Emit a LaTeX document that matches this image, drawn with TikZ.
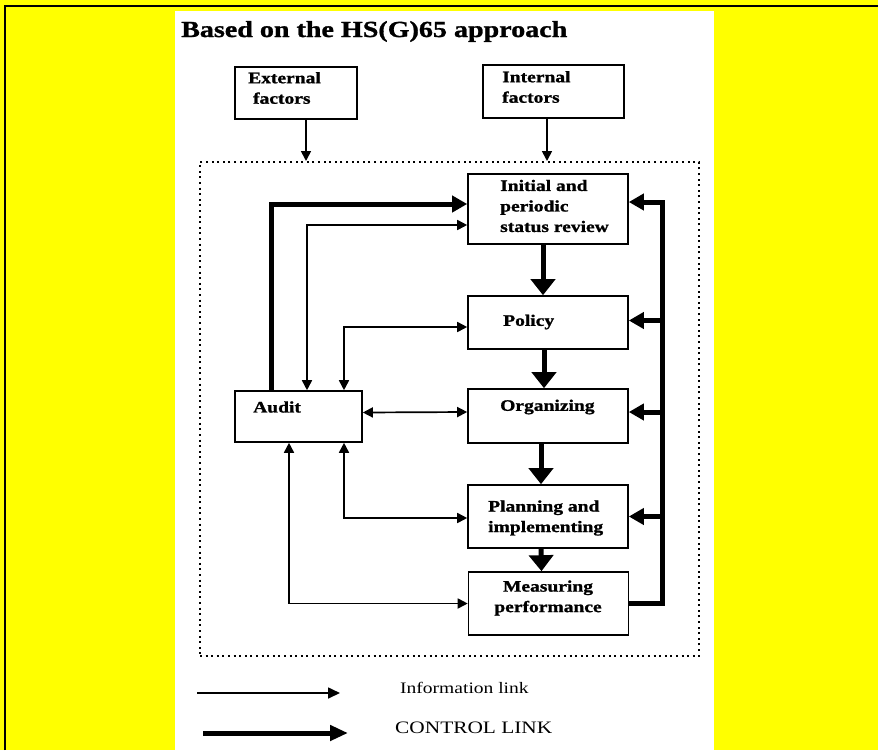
\documentclass[tikz,border=0pt]{standalone}
\usepackage{fontspec}
\setmainfont{Liberation Serif}[FakeStretch=1.22, BoldFeatures={FakeBold=1.2}]
\usetikzlibrary{arrows.meta}
\definecolor{bgyellow}{RGB}{255,255,0}

\begin{document}
\begin{tikzpicture}[x=1pt, y=-1pt]

        \tikzset{box/.style={draw=black, line width=1.6pt, inner sep=0pt},
                 lbl/.style={inner sep=0pt, align=left, font=\fontsize{16}{20.5}\selectfont\bfseries},
                 info/.style={line width=1.7pt, {Triangle[length=10pt,width=10pt]}-{Triangle[length=10pt,width=10pt]}},
                 infoone/.style={line width=1.7pt, -{Triangle[length=10pt,width=10pt]}},
                 ctrl/.style={line width=5pt, -{Triangle[length=15pt,width=16pt]}},
                 ctrldown/.style={line width=5pt, -{Triangle[length=16pt,width=24pt]}}}

        % background and page frame
        \useasboundingbox (0,0) rectangle (878,750);
        \fill[bgyellow] (0,0) rectangle (878,750);
        \fill[white] (175,11) rectangle (714,750);
        \draw[line width=2.5pt] (5,750) -- (5,6) -- (878,6);

        % title
        \node[inner sep=0pt, anchor=base west, font=\fontsize{23}{27}\selectfont\bfseries] (title) at (181,37) {Based on the HS(G)65 approach};

        % factors above the system
        \node[box, minimum width=122, minimum height=52] at (296,93) (ext) {};
        \node[lbl, anchor=west] at (248,88) (ext txt) {External\\\ factors};
        \node[box, minimum width=141, minimum height=53] at (553.5,91.5) (int) {};
        \node[lbl, anchor=west] at (502,87) (int txt) {Internal\\factors};

        % dotted system boundary
        \node[draw=black, line width=2pt, dash pattern=on 2pt off 3.6pt, minimum width=499, minimum height=494, inner sep=0pt] at (449.5,409) (frame) {};

        % main column of the cycle
        \node[box, minimum width=160, minimum height=70] at (548,209) (init) {};
        \node[lbl, anchor=west] at (500,206) (init txt) {Initial and\\periodic\\status review};
        \node[box, minimum width=160, minimum height=53] at (548,322.5) (policy) {};
        \node[lbl, anchor=west] at (503,322) (policy txt) {Policy};
        \node[box, minimum width=160, minimum height=54] at (548,416) (org) {};
        \node[lbl, anchor=west] at (500,407) (org txt) {Organizing};
        \node[box, minimum width=160, minimum height=63] at (548,516.5) (plan) {};
        \node[lbl, anchor=west] at (488,518) (plan txt) {Planning and\\implementing};
        \node[box, minimum width=160, minimum height=63] at (548.5,603.5) (meas) {};
        \node[lbl, align=center] at (548,598) (meas txt) {Measuring\\performance};

        % audit on the left
        \node[box, minimum width=127, minimum height=51] at (298.5,416.5) (audit) {};
        \node[lbl, anchor=west] at (253,407) (audit txt) {Audit};

        % inputs into the system
        \coordinate (extout) at (306,119);
        \coordinate (intout) at (547,118);
        \draw[infoone] (extout) -- (extout |- frame.north);
        \draw[infoone] (intout) -- (intout |- frame.north);

        % control links down the column
        \draw[ctrldown] ([xshift=-5pt]init.south) -- ([xshift=-5pt]policy.north);
        \draw[ctrldown] ([xshift=-4pt]policy.south) -- ([xshift=-4pt]org.north);
        \draw[ctrldown] ([xshift=-7pt]org.south) -- ([xshift=-7pt]plan.north);
        \draw[ctrldown] ([xshift=-7pt]plan.south) -- ([xshift=-7pt]meas.north);

        % feedback bus on the right
        \coordinate (bus) at (662,202);
        \draw[ctrl] (meas.east) -| (bus) -- ([yshift=7pt]init.east);
        \draw[ctrl] ([yshift=2pt]bus |- policy.east) -- ([yshift=2pt]policy.east);
        \draw[ctrl] ([yshift=4pt]bus |- org.east) -- ([yshift=4pt]org.east);
        \draw[ctrl] (bus |- plan.east) -- (plan.east);

        % audit back to the review
        \draw[ctrl] ([xshift=-27.5pt]audit.north) |- ([yshift=5pt]init.west);

        % information links
        \draw[info] ([xshift=8.5pt]audit.north) |- ([yshift=-16pt]init.west);
        \draw[info] ([xshift=45.5pt]audit.north) |- ([yshift=-4.5pt]policy.west);
        \draw[info] ([yshift=4pt]audit.east) -- ([yshift=4pt]org.west);
        \draw[info] ([xshift=45.5pt]audit.south) |- ([yshift=-1.5pt]plan.west);
        \draw[info] ([xshift=-9.5pt]audit.south) |- (meas.west);

        % legend
        \coordinate (li1) at (197,693);
        \coordinate (li2) at (340,693);
        \coordinate (lc1) at (203,733);
        \coordinate (lc2) at (348,733);
        \draw[line width=1.7pt, -{Triangle[length=12pt,width=11pt]}] (li1) -- (li2);
        \draw[line width=5pt, -{Triangle[length=18pt,width=15pt]}] (lc1) -- (lc2);
        \node[inner sep=0pt, anchor=base west, font=\fontsize{16}{19}\selectfont] at (400,693) (info txt) {Information link};
        \node[inner sep=0pt, anchor=base west, font=\fontsize{17.5}{20}\selectfont] at (395,733) (ctrl txt) {CONTROL LINK};

\end{tikzpicture}
\end{document}
